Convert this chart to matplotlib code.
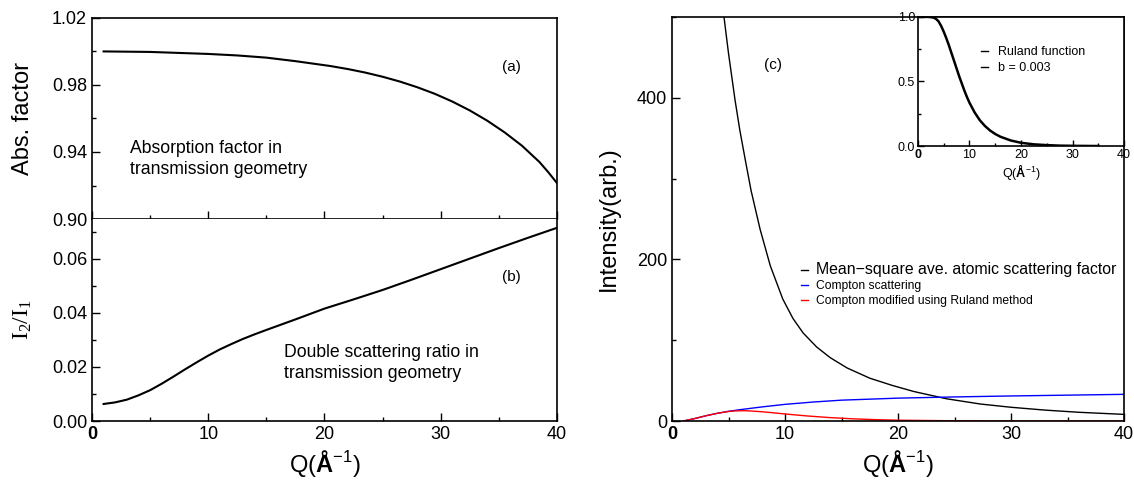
import numpy as np
import matplotlib
matplotlib.use('Agg')
import matplotlib.pyplot as plt
from matplotlib.ticker import MultipleLocator
from matplotlib.lines import Line2D

plt.rcParams['font.family'] = ['Liberation Sans', 'DejaVu Sans']
plt.rcParams['mathtext.fontset'] = 'custom'
plt.rcParams['mathtext.rm'] = 'Liberation Sans'
plt.rcParams['mathtext.bf'] = 'Liberation Sans:bold'
plt.rcParams['xtick.direction'] = 'in'
plt.rcParams['ytick.direction'] = 'in'

# (a) absorption factor
q_abs = [1, 5, 10, 12.5, 15, 17.5, 20.5, 22, 23.5, 25, 26.5, 28, 29.5, 31, 32.5, 34,
         35.5, 37, 38.5, 39.25, 40]
abs_factor = [1.000, 0.9997, 0.9985, 0.9976, 0.9963, 0.9942, 0.9913, 0.9895, 0.9874,
              0.9849, 0.9820, 0.9786, 0.9747, 0.9701, 0.9648, 0.9587, 0.9517, 0.9437,
              0.9340, 0.9280, 0.9215]

# (b) double scattering ratio
q_ds = [1, 2, 3, 4, 5, 6, 7, 8, 9, 10, 11, 12, 13, 14, 15, 17.5, 20, 22.5, 25,
        27.5, 30, 32.5, 35, 37.5, 40]
ds_ratio = [0.0063, 0.0069, 0.0079, 0.0095, 0.0114, 0.0138, 0.0164, 0.0191, 0.0217,
            0.0242, 0.0265, 0.0285, 0.0304, 0.0321, 0.0337, 0.0376, 0.0416, 0.0450,
            0.0485, 0.0523, 0.0562, 0.0601, 0.0640, 0.0678, 0.0715]

# (c) intensities
q_msf = [4.6, 5.0, 5.58, 6.0, 6.5, 7.0, 7.8, 8.7, 9.8, 10.7, 11.6, 12.8, 14.0, 15.5,
         17.5, 19.5, 21.4, 24.3, 27.3, 30, 33, 36, 40]
msf = [500, 455, 397, 360, 322, 285, 237, 192, 151, 127, 109, 91.6, 78.4, 65.6,
       53, 44, 36.5, 27.5, 21, 17, 13.5, 10.8, 8.2]

q_comp = [1, 2, 3, 4, 5, 6, 8, 10, 12.5, 15, 20, 25, 30, 35, 40]
compton = [0, 3, 6.5, 9.5, 12, 14, 17.5, 20.6, 23.5, 25.8, 28.3, 29.8, 31, 32, 33]

q_mod = [1, 2, 3, 4, 5, 5.5, 6, 6.5, 7, 8, 9, 10, 12, 14, 16, 18, 20, 25, 30, 40]
compton_mod = [0, 3, 6.5, 9.5, 11.8, 12.4, 12.7, 12.7, 12.4, 11.4, 10.1, 8.7, 6.2,
               4.2, 2.7, 1.7, 1.0, 0.3, 0.1, 0]

# inset: Ruland function
q_rul = [0, 1, 2, 3, 3.5, 4, 4.5, 5, 5.5, 6, 6.5, 7, 7.5, 8, 8.5, 9, 9.5, 10, 11, 12,
         13, 14, 15, 16, 18, 20, 22.5, 25, 27.5, 30, 35]
ruland = [1.0, 1.0, 1.0, 0.995, 0.985, 0.965, 0.93, 0.885, 0.835, 0.78, 0.72, 0.66,
          0.60, 0.54, 0.485, 0.43, 0.38, 0.335, 0.26, 0.20, 0.155, 0.12, 0.093, 0.072,
          0.043, 0.025, 0.013, 0.007, 0.003, 0.0015, 0.0]

fig = plt.figure(figsize=(11.34, 4.8), dpi=100)

ax_a = fig.add_axes([0.0811, 0.5437, 0.410, 0.419])
ax_b = fig.add_axes([0.0811, 0.1229, 0.410, 0.421])
ax_c = fig.add_axes([0.5926, 0.1229, 0.3986, 0.8417])
ax_in = fig.add_axes([0.8095, 0.6958, 0.1817, 0.269])

qlabel = 'Q($\\mathbf{Å}\\mathregular{^{-1}}$)'

for ax in (ax_a, ax_b, ax_c, ax_in):
    for s in ax.spines.values():
        s.set_linewidth(1.2)
    ax.tick_params(which='both', top=False, right=False, width=1.0)
    ax.tick_params(which='major', length=6, labelsize=13)
    ax.tick_params(which='minor', length=3)
    ax.xaxis.set_major_locator(MultipleLocator(10))
    ax.xaxis.set_minor_locator(MultipleLocator(5))
    ax.set_xlim(0, 40)

# panel (a)
ax_a.plot(q_abs, abs_factor, color='k', lw=1.5)
ax_a.set_ylim(0.90, 1.02)
ax_a.yaxis.set_minor_locator(MultipleLocator(0.02))
ax_a.set_yticks([0.90, 0.94, 0.98, 1.02])
ax_a.set_yticklabels(['0.90', '0.94', '0.98', '1.02'])
ax_a.tick_params(labelbottom=False)
ax_a.set_ylabel('Abs. factor', fontsize=17, labelpad=13)
ax_a.text(0.903, 0.756, '(a)', transform=ax_a.transAxes, fontsize=11, ha='center', va='center')
ax_a.text(0.082, 0.30, 'Absorption factor in\ntransmission geometry', transform=ax_a.transAxes,
          fontsize=12.7, ha='left', va='center', linespacing=1.3)

# panel (b)
ax_b.plot(q_ds, ds_ratio, color='k', lw=1.5)
ax_b.set_ylim(0, 0.0748)
ax_b.set_yticks([0.00, 0.02, 0.04, 0.06])
ax_b.set_yticklabels(['0.00', '0.02', '0.04', '0.06'])
ax_b.yaxis.set_minor_locator(MultipleLocator(0.01))
ax_b.spines['top'].set_visible(False)
ax_b.set_xlabel(qlabel, fontsize=17)
ax_b.set_ylabel('$\\mathregular{I_2/I_1}$', fontsize=17, family='Liberation Serif', labelpad=13)
ax_b.text(0.903, 0.713, '(b)', transform=ax_b.transAxes, fontsize=11, ha='center', va='center')
ax_b.text(0.413, 0.285, 'Double scattering ratio in\ntransmission geometry', transform=ax_b.transAxes,
          fontsize=12.7, ha='left', va='center', linespacing=1.3)
ax_b.set_xticks([0, 10, 20, 30, 40])
ax_b.set_xticklabels(['0', '10', '20', '30', '40'])
ax_b.get_xticklabels()[0].set_fontweight('bold')

# panel (c)
ax_c.plot(q_msf, msf, color='k', lw=1.0, label='Mean\u2212square ave. atomic scattering factor')
ax_c.plot(q_comp, compton, color='#0000ff', lw=1.0, label='Compton scattering')
ax_c.plot(q_mod, compton_mod, color='#ff0000', lw=1.0, label='Compton modified using Ruland method')
ax_c.set_ylim(0, 500)
ax_c.yaxis.set_major_locator(MultipleLocator(200))
ax_c.yaxis.set_minor_locator(MultipleLocator(100))
ax_c.set_xlabel(qlabel, fontsize=17)
ax_c.set_ylabel('Intensity(arb.)', fontsize=17, labelpad=12)
ax_c.set_xticks([0, 10, 20, 30, 40])
ax_c.set_xticklabels(['0', '10', '20', '30', '40'])
ax_c.get_xticklabels()[0].set_fontweight('bold')
ax_c.text(0.223, 0.881, '(c)', transform=ax_c.transAxes, fontsize=11, ha='center', va='center')
leg = ax_c.legend(loc='upper left', bbox_to_anchor=(0.275, 0.405), frameon=False,
                  handlelength=0.6, handletextpad=0.6, labelspacing=0.25, fontsize=8.7,
                  borderaxespad=0)
leg.get_texts()[0].set_fontsize(11.4)

# inset
ax_in.plot(q_rul, ruland, color='k', lw=1.8)
ax_in.set_ylim(0, 1.0)
ax_in.yaxis.set_minor_locator(MultipleLocator(0.25))
ax_in.tick_params(which='major', labelsize=9, length=4, pad=2)
ax_in.tick_params(which='minor', length=2)
ax_in.set_yticks([0, 0.5, 1.0])
ax_in.set_yticklabels(['0.0', '0.5', '1.0'])
ax_in.set_xticks([0, 10, 20, 30, 40])
ax_in.set_xticklabels(['0', '10', '20', '30', '40'])
ax_in.get_xticklabels()[0].set_fontweight('bold')
ax_in.set_xlabel(qlabel, fontsize=9, labelpad=1)
h1 = Line2D([], [], color='k', lw=1.0)
h2 = Line2D([], [], color='k', lw=1.0)
ax_in.legend([h1, h2], ['Ruland function', 'b = 0.003'], loc='upper left',
             bbox_to_anchor=(0.28, 0.81), frameon=False, handlelength=0.6,
             handletextpad=0.8, labelspacing=0.3, fontsize=9, borderaxespad=0)

fig.savefig('out.png', dpi=100)
